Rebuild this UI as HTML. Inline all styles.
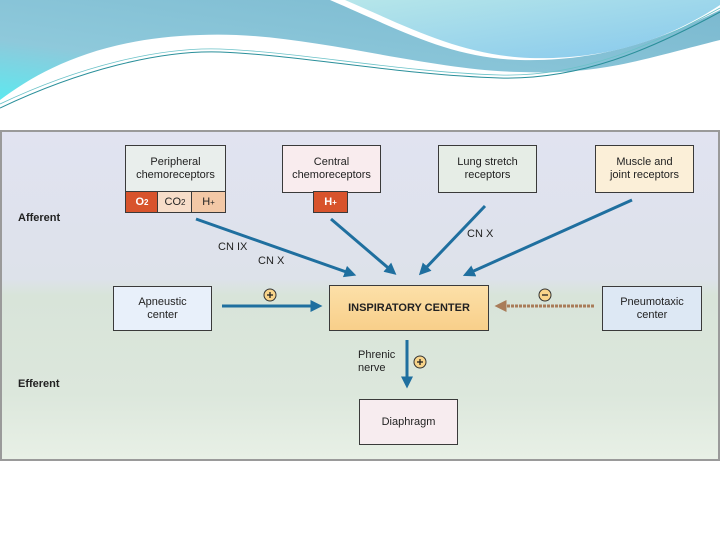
<!DOCTYPE html>
<html><head><style>
body{margin:0;width:720px;height:540px;overflow:hidden;background:#fff;font-family:"Liberation Sans",sans-serif;position:relative}
.b{position:absolute;border:1.5px solid #3a3a3a;box-sizing:border-box;display:flex;align-items:center;justify-content:center;text-align:center;font-size:11px;color:#222;line-height:13px}
.t{position:absolute;font-size:11px;color:#222}
</style></head><body>
<svg width="720" height="130" style="position:absolute;left:0;top:0">
<defs><linearGradient id="g1" x1="0" y1="1" x2="1" y2="0"><stop offset="0" stop-color="#5ee8ef"/><stop offset=".3" stop-color="#8ec9db"/><stop offset="1" stop-color="#7ab8cf"/></linearGradient>
<linearGradient id="g2" x1="0" y1="0" x2="1" y2="1"><stop offset="0" stop-color="#b6e6ea"/><stop offset="1" stop-color="#86c8ec"/></linearGradient></defs>
<path d="M0 0 H720 V40 C640 60 600 75 520 72 C420 70 300 30 200 35 C100 38 40 70 0 100 Z" fill="url(#g1)"/>
<path d="M330 0 H720 V10 C660 40 600 62 520 60 C450 58 400 30 330 0Z" fill="#fff"/>
<path d="M345 0 H720 V5 C670 38 610 60 530 58 C460 55 410 28 345 0Z" fill="url(#g2)"/>
<path d="M0 108 C80 70 160 50 220 52 C300 55 400 75 500 78 C580 80 650 50 720 12" fill="none" stroke="#2a8f9a" stroke-width="1"/>
<path d="M0 104 C80 66 160 47 220 49 C300 52 400 72 500 75 C580 77 650 47 720 8" fill="none" stroke="#6bc2c8" stroke-width="0.8"/>
</svg>
<div style="position:absolute;left:0;top:130px;width:720px;height:331px;box-sizing:border-box;border:2px solid #9a9a9a;background:linear-gradient(#e1e3f1 0%,#dde2ea 45%,#d8e4d9 50%,#dce7dc 80%,#e8f0e6 100%)"></div>
<div class="t" style="left:18px;top:212px;font-weight:bold">Afferent</div>
<div class="t" style="left:18px;top:378px;font-weight:bold">Efferent</div>
<div class="b" style="left:125px;top:145px;width:101px;height:48px;background:#e9eeec">Peripheral<br>chemoreceptors</div>
<div class="b" style="left:125px;top:191px;width:34px;height:22px;background:#d8532c;color:#fff;font-weight:bold">O<sub style="font-size:8px">2</sub></div>
<div class="b" style="left:157px;top:191px;width:36px;height:22px;background:#f7ddc9">CO<sub style="font-size:8px">2</sub></div>
<div class="b" style="left:191px;top:191px;width:35px;height:22px;background:#f3c8a6">H<sup style="font-size:8px">+</sup></div>
<div class="b" style="left:282px;top:145px;width:99px;height:48px;background:#f9ecee">Central<br>chemoreceptors</div>
<div class="b" style="left:313px;top:191px;width:35px;height:22px;background:#d8532c;color:#fff;font-weight:bold">H<sup style="font-size:8px">+</sup></div>
<div class="b" style="left:438px;top:145px;width:99px;height:48px;background:#e6ede6">Lung stretch<br>receptors</div>
<div class="b" style="left:595px;top:145px;width:99px;height:48px;background:#fbefd8">Muscle and<br>joint receptors</div>
<div class="b" style="left:113px;top:286px;width:99px;height:45px;background:#e8f0fa">Apneustic<br>center</div>
<div class="b" style="left:329px;top:285px;width:160px;height:46px;background:linear-gradient(#fce0a8,#f8cf8a);font-weight:bold">INSPIRATORY CENTER</div>
<div class="b" style="left:602px;top:286px;width:100px;height:45px;background:#dde8f4">Pneumotaxic<br>center</div>
<div class="b" style="left:359px;top:399px;width:99px;height:46px;background:#f7ecef">Diaphragm</div>
<div class="t" style="left:218px;top:241px">CN IX</div>
<div class="t" style="left:258px;top:255px">CN X</div>
<div class="t" style="left:467px;top:228px">CN X</div>
<div class="t" style="left:358px;top:349px;line-height:13px">Phrenic<br>nerve</div>
<svg width="720" height="540" style="position:absolute;left:0;top:0">
<defs><marker id="a" markerWidth="4" markerHeight="4" refX="2.5" refY="2" orient="auto"><path d="M0 0 L4 2 L0 4Z" fill="#1f6f9f"/></marker>
<marker id="c" markerWidth="4" markerHeight="4" refX="1.5" refY="2" orient="auto"><path d="M0 0 L4 2 L0 4Z" fill="#a97c59"/></marker></defs>
<g stroke="#1f6f9f" stroke-width="3" fill="none" marker-end="url(#a)">
<line x1="196" y1="219" x2="352" y2="274"/>
<line x1="331" y1="219" x2="393" y2="272"/>
<line x1="485" y1="206" x2="422" y2="272"/>
<line x1="632" y1="200" x2="467" y2="274"/>
<line x1="222" y1="306" x2="318" y2="306"/>
<line x1="407" y1="340" x2="407" y2="384"/>
</g>
<line x1="594" y1="306" x2="502" y2="306" stroke="#a97c59" stroke-width="3" stroke-dasharray="3 1" marker-end="url(#c)"/>
<g fill="#f8d48a" stroke="#333" stroke-width="1">
<circle cx="270" cy="295" r="6"/><circle cx="545" cy="295" r="6"/><circle cx="420" cy="362" r="6"/></g>
<g stroke="#222" stroke-width="1.3"><line x1="267" y1="295" x2="273" y2="295"/><line x1="270" y1="292" x2="270" y2="298"/>
<line x1="542" y1="295" x2="548" y2="295"/>
<line x1="417" y1="362" x2="423" y2="362"/><line x1="420" y1="359" x2="420" y2="365"/></g>
</svg>
</body></html>
